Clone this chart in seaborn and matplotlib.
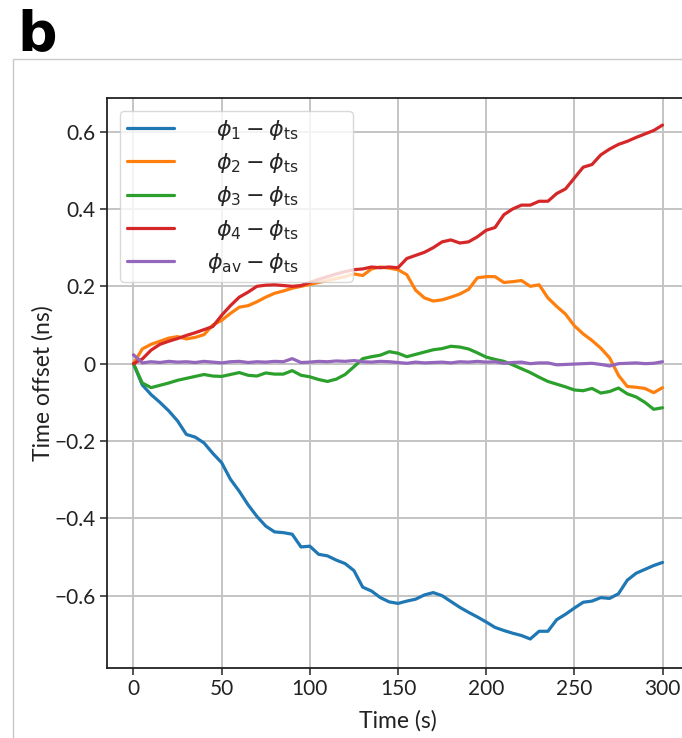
import numpy as np
import pandas as pd
import matplotlib
matplotlib.use("Agg")
import matplotlib.pyplot as plt
from matplotlib.patches import Rectangle
from matplotlib.ticker import FuncFormatter
from matplotlib.offsetbox import DrawingArea
import seaborn as sns

# ---------------- data ----------------
time_s = list(range(0, 301, 5))

phi1 = [0.0, -0.055, -0.08, -0.10, -0.122, -0.148, -0.183, -0.19, -0.205, -0.232,
        -0.256, -0.299, -0.33, -0.365, -0.395, -0.42, -0.435, -0.437, -0.441, -0.474,
        -0.472, -0.493, -0.497, -0.508, -0.517, -0.535, -0.578, -0.588, -0.605, -0.616,
        -0.62, -0.614, -0.609, -0.598, -0.592, -0.6, -0.615, -0.63, -0.643, -0.655,
        -0.668, -0.682, -0.69, -0.697, -0.703, -0.712, -0.692, -0.692, -0.662, -0.648,
        -0.632, -0.617, -0.614, -0.605, -0.607, -0.595, -0.56, -0.542, -0.532, -0.522,
        -0.514]

phi2 = [0.0, 0.038, 0.05, 0.058, 0.066, 0.07, 0.064, 0.068, 0.075, 0.1,
        0.112, 0.13, 0.146, 0.15, 0.16, 0.172, 0.182, 0.188, 0.195, 0.2,
        0.205, 0.21, 0.215, 0.22, 0.225, 0.232, 0.228, 0.245, 0.25, 0.247,
        0.243, 0.23, 0.19, 0.17, 0.162, 0.165, 0.172, 0.18, 0.192, 0.222,
        0.225, 0.225, 0.21, 0.212, 0.215, 0.2, 0.204, 0.17, 0.148, 0.128,
        0.098, 0.077, 0.06, 0.04, 0.015, -0.03, -0.059, -0.061, -0.064, -0.075,
        -0.062]

phi3 = [0.0, -0.05, -0.062, -0.056, -0.05, -0.043, -0.038, -0.033, -0.028, -0.032,
        -0.033, -0.028, -0.023, -0.03, -0.032, -0.024, -0.027, -0.027, -0.018, -0.03,
        -0.034, -0.041, -0.046, -0.04, -0.028, -0.008, 0.013, 0.018, 0.022, 0.031,
        0.027, 0.018, 0.024, 0.03, 0.036, 0.039, 0.045, 0.043, 0.038, 0.028,
        0.017, 0.011, 0.006, -0.003, -0.013, -0.023, -0.035, -0.046, -0.053, -0.06,
        -0.068, -0.07, -0.064, -0.076, -0.072, -0.063, -0.078, -0.086, -0.1, -0.118,
        -0.114]

phi4 = [0.0, 0.012, 0.035, 0.05, 0.058, 0.065, 0.073, 0.08, 0.088, 0.096,
        0.125, 0.15, 0.172, 0.185, 0.2, 0.203, 0.204, 0.202, 0.2, 0.202,
        0.21, 0.218, 0.225, 0.232, 0.238, 0.243, 0.245, 0.25, 0.248, 0.25,
        0.248, 0.272, 0.28, 0.288, 0.3, 0.315, 0.32, 0.312, 0.315, 0.328,
        0.345, 0.352, 0.385, 0.4, 0.41, 0.41, 0.42, 0.42, 0.44, 0.452,
        0.48, 0.508, 0.515, 0.54, 0.555, 0.567, 0.575, 0.585, 0.594, 0.603,
        0.617]

phi_av = [0.023, 0.002, 0.005, 0.003, 0.006, 0.004, 0.005, 0.003, 0.006, 0.004,
          0.002, 0.005, 0.006, 0.003, 0.005, 0.004, 0.006, 0.005, 0.013, 0.003,
          0.004, 0.006, 0.005, 0.007, 0.006, 0.008, 0.005, 0.004, 0.006, 0.005,
          0.003, 0.001, 0.004, 0.002, 0.003, 0.004, 0.002, 0.005, 0.004, 0.006,
          0.004, 0.005, 0.001, 0.003, 0.004, 0.0, 0.002, 0.002, -0.003, -0.002,
          -0.001, 0.0, 0.001, -0.002, -0.006, 0.0, 0.001, 0.002, 0.0, 0.001,
          0.005]

series_labels = [r"$\phi_1 - \phi_{\mathrm{ts}}$",
                 r"$\phi_2 - \phi_{\mathrm{ts}}$",
                 r"$\phi_3 - \phi_{\mathrm{ts}}$",
                 r"$\phi_4 - \phi_{\mathrm{ts}}$",
                 r"$\phi_{\mathrm{av}} - \phi_{\mathrm{ts}}$"]
series_values = [phi1, phi2, phi3, phi4, phi_av]
y_ticks = [-0.6, -0.4, -0.2, 0.0, 0.2, 0.4, 0.6]
x_ticks = [0, 50, 100, 150, 200, 250, 300]

# ---------------- long table ----------------
frames = []
for lab, vals in zip(series_labels, series_values):
    frames.append(pd.DataFrame({"t": time_s, "v": vals, "series": lab}))
df = pd.concat(frames, ignore_index=True)

# ---------------- style ----------------
sns.set_theme(style="whitegrid")
plt.rcParams["font.family"] = ["Lato", "DejaVu Sans"]
plt.rcParams["mathtext.fontset"] = "dejavusans"

W, H = 682, 738
fig = plt.figure(figsize=(W / 100, H / 100), dpi=100)
fig.patch.set_facecolor("white")

ax_left, ax_right, ax_top, ax_bottom = 107, 689, 98, 668
ax = fig.add_axes([ax_left / W, 1 - ax_bottom / H,
                   (ax_right - ax_left) / W, (ax_bottom - ax_top) / H])

palette = ["#1f77b4", "#ff7f0e", "#2ca02c", "#d62728", "#9467bd"]
sns.lineplot(data=df, x="t", y="v", hue="series", hue_order=series_labels,
             palette=palette, linewidth=2.3, legend=False, ax=ax)

ax.set_xlim(-15, 315)
ax.set_ylim(-0.787, 0.687)
ax.set_xticks(x_ticks)
ax.set_yticks(y_ticks)

def yfmt(v, pos):
    if abs(v) < 1e-9:
        return "0"
    return f"{v:.1f}".replace("-", "\u2212")

ax.yaxis.set_major_formatter(FuncFormatter(yfmt))
ax.grid(True, color="#c4c4c4", linewidth=1.4)
ax.set_facecolor("white")
for side in ["left", "bottom", "top"]:
    ax.spines[side].set_color("#222222")
    ax.spines[side].set_linewidth(1.3)
ax.spines["right"].set_visible(False)
ax.tick_params(axis="both", which="major", length=5, width=1.1, color="#222222",
               labelsize=15, labelcolor="#222222", direction="out", pad=3,
               left=True, bottom=True)
ax.set_xlabel("Time (s)", fontsize=16.5, color="#222222", labelpad=8)
ax.set_ylabel("Time offset (ns)", fontsize=16.5, color="#222222", labelpad=1)

# ---------------- legend ----------------
handles = ax.get_lines()[:5]
leg = ax.legend(handles, series_labels, loc="upper left",
                bbox_to_anchor=((120 - ax_left) / (ax_right - ax_left),
                                (ax_bottom - 111) / (ax_bottom - ax_top)),
                borderaxespad=0, fontsize=16, handlelength=2.15,
                handletextpad=0.6, labelspacing=0.42, borderpad=0.3,
                columnspacing=0.5,
                framealpha=0.8, edgecolor="#d0d0d0", fancybox=True)
# right-align the label texts while keeping handles at the left
col = leg._legend_handle_box.get_children()[0]
col.width = 172
for item in col.get_children():
    item.mode = "expand"
# extra empty space on the right side of the legend frame
leg._legend_handle_box._children.append(DrawingArea(26, 1))

# ---------------- figure decorations ----------------
fig.add_artist(Rectangle((13 / W, -0.05), 1.2, (H - 59) / H + 0.05,
                         transform=fig.transFigure, fill=False,
                         edgecolor="#c8c8c8", linewidth=1.0))
fig.text(17 / W, 1 - 50 / H, "b", fontsize=40, fontweight="bold",
         family=["DejaVu Sans"], ha="left", va="baseline", color="black")

fig.savefig("out.png", dpi=100)
